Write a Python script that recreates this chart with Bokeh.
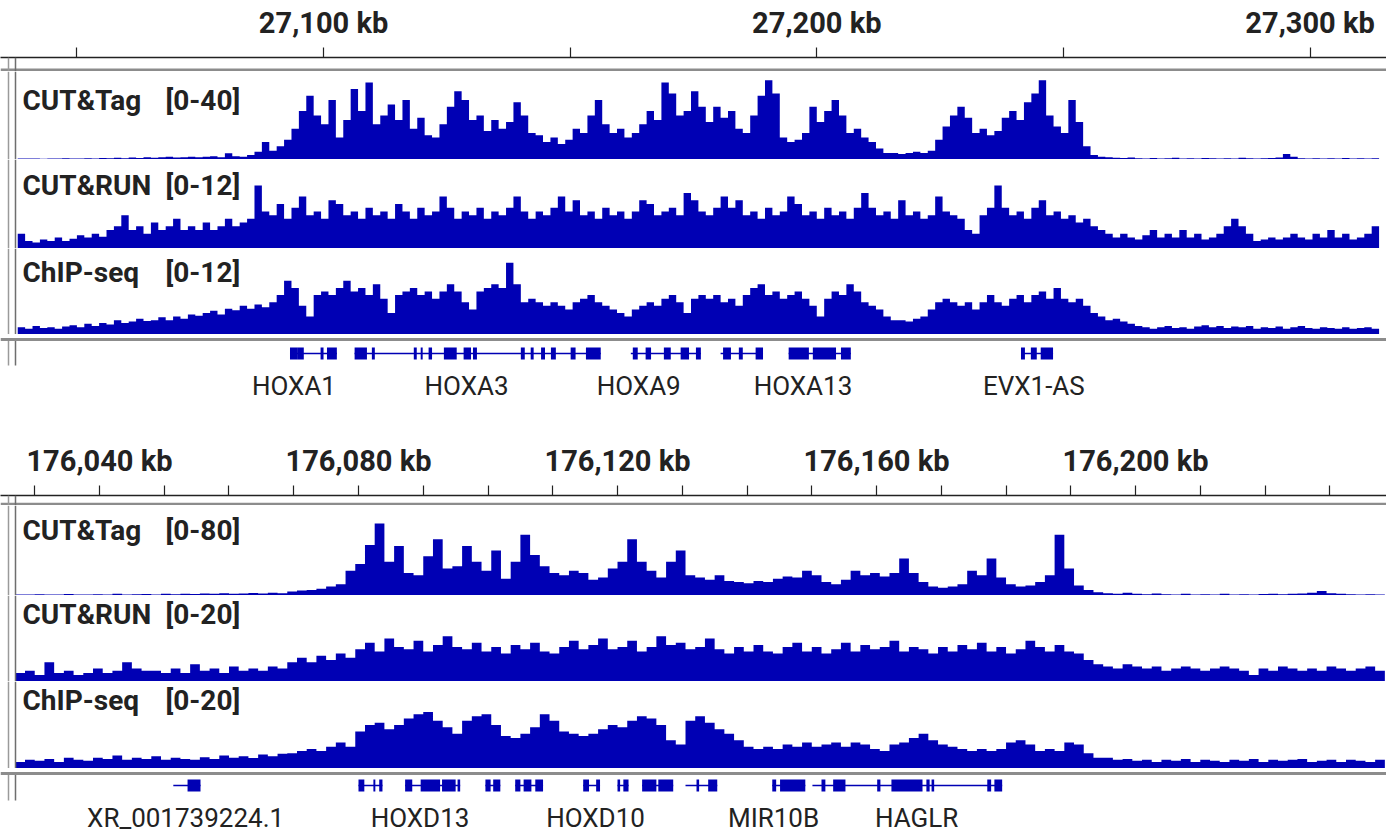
import numpy as np
from bokeh.plotting import figure
from bokeh.layouts import column
from bokeh.models import Range1d, LinearAxis, FixedTicker, Span, Label
from bokeh.core.properties import value
from bokeh.embed import file_html
from bokeh.resources import INLINE

FONT = "Roboto"
BLUE = "#0000b4"
INK = "#222222"
GRAY = "#8c8c8c"
EDGE = "#6e6e6e"
W = 1386

# ---------------- locus 1 (HOXA cluster) ----------------
TOP_VIEW = [27037.55, 27315.3]            # kb shown
TOP_TICKS = [27100, 27200, 27300]
TOP_TICK_LABELS = ["27,100 kb", "27,200 kb", "27,300 kb"]
TOP_MINOR = [27050, 27150, 27250]
TOP_BIN0 = 27038.0
TOP_BIN_KB = 1.5

top_cuttag = [0.5, 0.4, 0.5, 0.3, 0.4, 0.5, 0.6, 0.4, 0.5, 0.6,
              0.5, 0.7, 0.6, 0.8, 0.6, 0.9, 0.7, 1.0, 0.8, 1.0,
              1.2, 0.9, 1.0, 1.3, 1.0, 1.2, 1.5, 1.0, 2.8, 1.5,
              1.2, 2.0, 3.5, 8, 4, 6, 9, 14, 22, 29,
              20, 16, 27, 10, 18, 32, 22, 35, 16, 20,
              25, 18, 27, 14, 19, 11, 10, 16, 24, 31,
              27, 18, 20, 13, 18, 14, 17, 26, 20, 12,
              11, 8, 10, 7, 9, 14, 12, 20, 27, 16,
              12, 14, 10, 12, 16, 22, 18, 35, 30, 20,
              22, 31, 24, 17, 24, 19, 22, 14, 12, 20,
              29, 36, 30, 10, 8, 9, 12, 24, 17, 22,
              27, 20, 12, 14, 10, 8, 5, 3, 3, 2.5,
              3, 3.5, 3, 4, 9, 15, 20, 24, 19, 12,
              14, 11, 13, 19, 22, 18, 26, 30, 36, 20,
              15, 12, 27, 17, 6, 2, 1.2, 1.0, 0.8, 0.7,
              0.9, 0.6, 0.5, 0.7, 0.5, 0.6, 0.8, 0.5, 0.6, 0.5,
              0.7, 0.6, 0.5, 0.6, 0.5, 0.8, 0.6, 0.5, 0.6, 0.7,
              0.9, 2.5, 1.2, 0.6, 0.5, 0.6, 0.5, 0.6, 0.5, 0.7,
              0.5, 0.6, 0.5, 0.6]
top_cutrun = [2.0, 1.0, 0.8, 1.2, 1.0, 1.5, 1.0, 1.3, 1.8, 1.5,
              2.0, 1.6, 2.5, 3.0, 4.5, 2.5, 3.0, 2.0, 3.5, 2.5,
              3.0, 4.0, 2.5, 3.0, 2.5, 3.5, 2.5, 3.0, 4.0, 3.0,
              3.5, 4.0, 8.5, 5.0, 4.5, 6.0, 4.0, 5.5, 7.0, 4.5,
              5.0, 4.0, 6.5, 6.0, 4.5, 5.0, 4.0, 5.5, 4.5, 5.0,
              4.0, 6.0, 5.0, 4.0, 5.5, 4.5, 5.0, 7.0, 5.5, 4.0,
              5.0, 4.5, 5.5, 4.0, 5.0, 4.5, 5.5, 7.0, 5.0, 4.0,
              5.0, 4.5, 5.5, 7.0, 5.0, 6.5, 4.5, 5.0, 4.0, 5.5,
              4.5, 5.0, 4.0, 5.0, 6.5, 6.0, 4.5, 5.0, 5.5, 4.5,
              7.5, 6.5, 5.0, 4.5, 5.5, 7.0, 5.5, 6.5, 4.5, 5.0,
              4.0, 5.5, 4.5, 5.0, 7.0, 6.0, 4.5, 5.0, 4.0, 5.5,
              4.5, 5.0, 4.0, 5.5, 7.5, 5.5, 4.5, 5.0, 4.0, 6.5,
              4.5, 5.0, 4.0, 4.5, 7.0, 5.0, 4.5, 4.0, 2.5, 2.0,
              4.5, 5.5, 8.5, 5.5, 4.5, 5.0, 4.0, 5.5, 6.5, 4.5,
              5.0, 4.0, 4.5, 3.5, 4.0, 3.0, 2.5, 2.0, 1.5, 2.0,
              1.5, 1.2, 1.8, 2.5, 1.5, 2.0, 1.5, 2.5, 1.5, 2.0,
              1.2, 1.5, 2.0, 3.0, 4.0, 3.0, 2.0, 1.0, 1.2, 1.5,
              1.2, 1.5, 2.0, 1.5, 1.2, 2.0, 1.5, 2.5, 1.5, 2.0,
              1.2, 1.5, 2.0, 3.0]
top_chip = [1.0, 0.8, 1.2, 0.9, 1.0, 0.8, 1.1, 1.3, 1.0, 1.5,
            1.2, 1.6, 1.4, 2.0, 1.6, 1.8, 2.2, 1.9, 2.0, 2.4,
            2.0, 2.5, 2.2, 2.8, 2.6, 3.0, 3.3, 2.8, 3.6, 3.4,
            4.0, 3.6, 4.2, 3.8, 4.5, 5.5, 7.5, 6.5, 4.0, 2.5,
            5.5, 6.0, 5.5, 6.5, 7.5, 6.0, 6.5, 5.5, 7.0, 5.0,
            3.0, 5.5, 6.0, 6.5, 5.5, 6.0, 5.0, 6.0, 7.0, 6.0,
            4.5, 3.5, 6.0, 6.5, 7.0, 6.5, 10.0, 7.0, 4.5, 5.0,
            4.5, 4.0, 4.5, 4.0, 3.5, 4.5, 5.0, 5.5, 4.5, 4.0,
            3.5, 3.0, 2.5, 3.5, 4.0, 4.5, 4.0, 5.0, 5.5, 4.5,
            3.0, 5.0, 5.5, 5.0, 5.5, 4.5, 5.0, 4.0, 5.5, 6.5,
            7.0, 5.5, 6.0, 5.0, 5.5, 6.0, 5.0, 4.0, 2.5, 5.0,
            6.0, 5.5, 7.0, 6.0, 4.5, 4.0, 3.5, 2.5, 2.0, 2.0,
            1.8, 2.2, 2.5, 3.5, 4.5, 5.0, 4.5, 4.0, 4.5, 3.5,
            4.5, 5.5, 4.5, 4.0, 5.0, 5.5, 4.5, 5.5, 6.0, 5.0,
            6.5, 5.0, 4.5, 5.0, 4.0, 3.0, 2.5, 2.0, 2.2, 1.8,
            1.5, 1.2, 1.0, 0.8, 1.0, 1.2, 0.9, 1.0, 0.8, 1.1,
            1.3, 1.0, 1.2, 0.9, 1.1, 1.0, 1.2, 0.8, 1.0, 0.9,
            1.1, 0.8, 1.0, 1.2, 0.9, 0.8, 1.0, 0.9, 0.8, 1.0,
            0.8, 0.9, 1.0, 0.8]

TOP_GENE_START = [27093.2, 27106.3, 27162.3, 27180.5, 27194.3, 27241.4]
TOP_GENE_END = [27102.7, 27156.2, 27176.5, 27189.1, 27206.9, 27247.9]
TOP_EXON_START = [27093.2, 27094.8, 27099.4, 27100.7, 27106.3, 27109.8, 27118.3,
                  27119.7, 27121.3, 27124.4, 27128.4, 27130.3, 27140.0, 27142.0,
                  27144.1, 27146.1, 27150.1, 27153.2, 27162.7, 27165.3, 27169.0,
                  27172.4, 27175.5, 27181.0, 27184.2, 27187.6, 27194.3, 27199.2,
                  27204.9, 27241.4, 27243.4, 27245.4]
TOP_EXON_END = [27094.8, 27096.0, 27100.0, 27102.7, 27108.8, 27110.4, 27118.9,
                27120.1, 27122.0, 27127.0, 27129.9, 27131.1, 27140.8, 27142.6,
                27144.9, 27147.1, 27151.1, 27156.2, 27163.7, 27166.4, 27170.4,
                27174.1, 27176.5, 27182.6, 27185.0, 27189.1, 27198.4, 27203.9,
                27206.9, 27242.2, 27244.6, 27247.9]
TOP_GENE_NAMES = ["HOXA1", "HOXA3", "HOXA9", "HOXA13", "EVX1-AS"]
TOP_GENE_LABEL_KB = [27094.0, 27129.0, 27163.9, 27197.2, 27244.0]

# ---------------- locus 2 (HOXD cluster) ----------------
BOT_VIEW = [176027.03, 176238.6]
BOT_TICKS = [176040, 176080, 176120, 176160, 176200]
BOT_TICK_LABELS = ["176,040 kb", "176,080 kb", "176,120 kb", "176,160 kb", "176,200 kb"]
BOT_MINOR = [176030, 176050, 176060, 176070, 176090, 176100, 176110, 176130,
             176140, 176150, 176170, 176180, 176190, 176210, 176220, 176230]
BOT_BIN0 = 176027.0
BOT_BIN_KB = 1.5

bot_cuttag = [1.0, 0.8, 1.2, 0.9, 1.0, 1.3, 0.8, 1.0, 1.2, 1.0,
              1.5, 1.0, 1.2, 1.4, 1.0, 1.6, 1.2, 1.5, 1.3, 1.8,
              1.5, 2.0, 1.6, 1.8, 2.2, 1.8, 2.5, 2.0, 3.5, 4.5,
              5, 6, 8, 10, 22, 28, 45, 64, 30, 44,
              20, 18, 35, 50, 24, 26, 44, 30, 22, 40,
              15, 30, 54, 36, 26, 20, 18, 22, 20, 14,
              16, 24, 30, 50, 30, 22, 16, 30, 40, 18,
              16, 14, 18, 13, 12, 11, 13, 12, 15, 17,
              16, 22, 18, 12, 10, 14, 22, 18, 20, 17,
              20, 33, 20, 12, 8, 7, 8, 10, 22, 18,
              33, 16, 10, 8, 9, 12, 18, 54, 24, 9,
              5, 3, 2.0, 1.5, 2.5, 1.5, 1.2, 1.8, 1.2, 1.0,
              1.5, 1.0, 1.2, 1.0, 1.5, 1.0, 1.2, 1.0, 1.3, 1.5,
              1.2, 1.5, 1.8, 2.5, 4.0, 2.0, 1.5, 1.2, 1.0, 1.2,
              1.0]
bot_cutrun = [2.0, 2.5, 1.5, 4.5, 2.0, 2.5, 1.5, 2.0, 3.0, 2.0,
              2.5, 4.5, 3.0, 2.5, 2.5, 2.0, 3.0, 2.0, 4.0, 2.5,
              3.0, 2.0, 3.5, 2.5, 3.0, 2.5, 3.5, 3.0, 4.5, 5.5,
              4.5, 6.0, 5.0, 6.5, 5.5, 7.5, 9.0, 7.0, 10.0, 8.0,
              7.5, 9.5, 7.0, 8.5, 10.5, 8.0, 7.5, 9.0, 7.0, 8.0,
              6.5, 8.5, 7.5, 9.0, 7.0, 6.5, 8.0, 9.5, 7.5, 8.5,
              10.0, 7.5, 8.0, 9.5, 7.0, 8.0, 10.5, 8.5, 9.0, 7.5,
              8.0, 10.0, 7.5, 6.5, 8.0, 7.0, 8.5, 7.0, 6.5, 8.0,
              9.0, 7.0, 8.0, 6.5, 7.5, 9.0, 7.0, 8.5, 7.5, 8.0,
              9.5, 7.0, 8.0, 7.5, 6.5, 8.0, 7.0, 8.5, 7.5, 9.0,
              7.0, 8.0, 6.5, 7.5, 9.5, 8.0, 7.0, 8.5, 7.0, 6.5,
              5.0, 4.0, 3.5, 3.0, 4.0, 3.5, 3.0, 3.5, 2.5, 3.0,
              3.5, 3.0, 2.5, 3.0, 3.5, 3.0, 2.5, 1.5, 3.0, 2.5,
              3.5, 3.0, 2.5, 3.0, 2.5, 3.5, 3.0, 2.5, 3.0, 3.5,
              2.5]
bot_chip = [1.5, 2.0, 1.8, 2.2, 1.5, 2.5, 2.0, 1.8, 2.5, 2.2,
            3.0, 2.0, 2.5, 2.2, 2.8, 2.0, 2.5, 2.2, 2.0, 2.6,
            2.2, 3.0, 2.5, 2.8, 2.4, 3.2, 2.8, 3.4, 3.5, 4.0,
            4.5, 4.0, 5.0, 6.0, 5.0, 8.5, 10.0, 10.5, 9.0, 10.0,
            11.5, 12.5, 13.0, 11.0, 9.5, 8.0, 11.0, 12.0, 12.5, 10.0,
            7.5, 7.0, 8.0, 9.5, 12.5, 11.0, 8.5, 8.0, 7.5, 8.0,
            9.0, 10.0, 9.5, 11.0, 12.0, 11.5, 10.0, 6.5, 5.5, 11.0,
            12.0, 10.5, 9.0, 8.0, 6.5, 5.0, 4.5, 5.0, 4.5, 5.5,
            5.0, 6.0, 5.0, 5.5, 6.0, 5.0, 6.0, 5.5, 4.5, 4.0,
            5.5, 6.0, 7.0, 8.0, 6.5, 5.5, 5.0, 4.5, 4.0, 4.5,
            4.0, 4.5, 6.0, 6.5, 5.5, 4.0, 4.5, 4.0, 6.0, 5.5,
            3.5, 2.5, 2.5, 2.0, 2.2, 1.8, 2.0, 1.5, 2.0, 1.8,
            2.2, 1.5, 2.0, 1.8, 1.5, 2.0, 1.8, 2.2, 1.5, 2.0,
            1.8, 2.0, 2.2, 1.5, 1.8, 2.0, 1.5, 2.0, 1.8, 1.5,
            2.0]

BOT_GENE_START = [176051.4, 176080.0, 176087.2, 176099.6, 176104.2, 176114.7,
                  176120.0, 176123.8, 176130.5, 176143.9, 176150.1]
BOT_GENE_END = [176055.6, 176083.7, 176095.7, 176101.9, 176108.5, 176117.3,
                176121.7, 176128.6, 176135.4, 176149.0, 176179.4]
BOT_EXON_START = [176053.6, 176080.0, 176082.3, 176083.2, 176087.2, 176089.6,
                  176092.9, 176095.3, 176099.6, 176100.8, 176104.2, 176105.5,
                  176107.3, 176114.7, 176116.7, 176120.0, 176120.9, 176123.8,
                  176126.3, 176132.2, 176134.0, 176143.9, 176145.1, 176151.5,
                  176153.3, 176160.1, 176162.3, 176167.7, 176168.5, 176177.1,
                  176178.2]
BOT_EXON_END = [176055.6, 176080.9, 176082.6, 176083.7, 176088.3, 176092.6,
                176095.0, 176095.7, 176100.4, 176101.9, 176105.0, 176106.7,
                176108.5, 176115.6, 176117.3, 176120.4, 176121.7, 176126.0,
                176128.6, 176132.6, 176135.4, 176144.5, 176149.0, 176152.1,
                176155.2, 176160.6, 176167.1, 176168.2, 176168.9, 176177.7,
                176179.4]
BOT_GENE_NAMES = ["XR_001739224.1", "HOXD13", "HOXD10", "MIR10B", "HAGLR"]
BOT_GENE_LABEL_KB = [176053.3, 176089.5, 176116.6, 176144.1, 176166.2]

DATA_X0 = 15     # px from the figure's left edge where the locus window begins
DATA_W = 1370    # px width of the locus window


def make_range(view):
    ppk = DATA_W / (view[1] - view[0])
    return Range1d(view[0] - DATA_X0 / ppk, view[0] + (W - DATA_X0) / ppk), ppk


def base_fig(h, xr, yr, top=0):
    p = figure(width=W, height=h, x_range=xr, y_range=yr, output_backend="svg",
               toolbar_location=None, x_axis_location=None, y_axis_location=None,
               min_border=0)
    p.min_border_top = top
    p.outline_line_color = None
    p.grid.visible = False
    return p


def edge_spans(p, ppk, view):
    p.add_layout(Span(location=view[0] - 7 / ppk, dimension="height",
                      line_color="#9a9a9a", line_width=1.5))
    p.add_layout(Span(location=view[0], dimension="height",
                      line_color=EDGE, line_width=1.5))


def ruler(h, top, xr, ppk, view, ticks, labels, minor):
    p = base_fig(h, xr, Range1d(0, h - top), top=top)
    ax = LinearAxis(ticker=FixedTicker(ticks=ticks, minor_ticks=minor),
                    major_label_overrides={t: l for t, l in zip(ticks, labels)})
    ax.axis_line_color = INK
    ax.axis_line_width = 1.5
    ax.major_tick_in = 0
    ax.major_tick_out = 10
    ax.minor_tick_in = 0
    ax.minor_tick_out = 10
    ax.major_tick_line_color = INK
    ax.minor_tick_line_color = INK
    ax.major_tick_line_width = 1.2
    ax.minor_tick_line_width = 1.2
    ax.major_label_standoff = 8
    ax.major_label_text_font = FONT
    ax.major_label_text_font_size = "29px"
    ax.major_label_text_font_style = "bold"
    ax.major_label_text_color = INK
    p.add_layout(ax, "above")
    p.add_layout(Span(location=1.5, dimension="width", line_color=GRAY, line_width=3))
    edge_spans(p, ppk, view)
    return p


def track(h, xr, ppk, view, vals, bin0, binkb, ymax, name, rng, label_off):
    p = base_fig(h, xr, Range1d(0, ymax))
    vals = np.asarray(vals, dtype=float)
    left = bin0 + binkb * np.arange(len(vals))
    right = np.minimum(left + binkb, view[1])
    xs = np.column_stack([left, right]).ravel()
    ys = np.repeat(vals, 2)
    p.varea(x=xs, y1=0, y2=ys, fill_color=BLUE)
    edge_spans(p, ppk, view)
    for txt, x in ((name, 22), (rng, 165)):
        p.add_layout(Label(x=x, y=h - label_off, x_units="screen", y_units="screen",
                           text=txt, text_font=FONT, text_font_size="28px",
                           text_font_style="bold", text_color=INK,
                           text_baseline="middle"))
    return p


def genes(h, xr, ppk, view, gs, ge, es, ee, names, name_kb, gray_y, row_y, lab_y, edge_end):
    p = base_fig(h, xr, Range1d(h, 0))
    p.add_layout(Span(location=gray_y, dimension="width", line_color=GRAY, line_width=3))
    xe = [view[0] - 7 / ppk, view[0]]
    p.segment(x0=xe, x1=xe, y0=[gray_y + 1] * 2, y1=[edge_end] * 2,
              line_color=["#9a9a9a", EDGE], line_width=1.5)
    p.segment(x0=gs, x1=ge, y0=row_y, y1=row_y, line_color=BLUE, line_width=1.3)
    p.quad(left=es, right=ee, top=row_y - 6, bottom=row_y + 6,
           fill_color=BLUE, line_color=None)
    p.text(x=name_kb, y=[lab_y] * len(names), text=names, text_align="center",
           text_baseline="middle", text_font=value(FONT), text_font_size="26px",
           text_color=INK)
    return p


xr1, ppk1 = make_range(TOP_VIEW)
xr2, ppk2 = make_range(BOT_VIEW)

figs = [
    ruler(71, 57, xr1, ppk1, TOP_VIEW, TOP_TICKS, TOP_TICK_LABELS, TOP_MINOR),
    track(88, xr1, ppk1, TOP_VIEW, top_cuttag, TOP_BIN0, TOP_BIN_KB, 40, "CUT&Tag", "[0-40]", 29),
    track(89, xr1, ppk1, TOP_VIEW, top_cutrun, TOP_BIN0, TOP_BIN_KB, 12, "CUT&RUN", "[0-12]", 26),
    track(86, xr1, ppk1, TOP_VIEW, top_chip, TOP_BIN0, TOP_BIN_KB, 12, "ChIP-seq", "[0-12]", 24),
    genes(106, xr1, ppk1, TOP_VIEW, TOP_GENE_START, TOP_GENE_END, TOP_EXON_START, TOP_EXON_END,
          TOP_GENE_NAMES, TOP_GENE_LABEL_KB, 5, 19, 51, 31),
    ruler(65, 53, xr2, ppk2, BOT_VIEW, BOT_TICKS, BOT_TICK_LABELS, BOT_MINOR),
    track(90, xr2, ppk2, BOT_VIEW, bot_cuttag, BOT_BIN0, BOT_BIN_KB, 80, "CUT&Tag", "[0-80]", 25),
    track(86, xr2, ppk2, BOT_VIEW, bot_cutrun, BOT_BIN0, BOT_BIN_KB, 20, "CUT&RUN", "[0-20]", 19),
    track(87, xr2, ppk2, BOT_VIEW, bot_chip, BOT_BIN0, BOT_BIN_KB, 20, "ChIP-seq", "[0-20]", 19),
    genes(67, xr2, ppk2, BOT_VIEW, BOT_GENE_START, BOT_GENE_END, BOT_EXON_START, BOT_EXON_END,
          BOT_GENE_NAMES, BOT_GENE_LABEL_KB, 5, 17, 49, 32),
]

layout = column(*figs, spacing=0)
open("out.html", "w").write(file_html(layout, INLINE))
